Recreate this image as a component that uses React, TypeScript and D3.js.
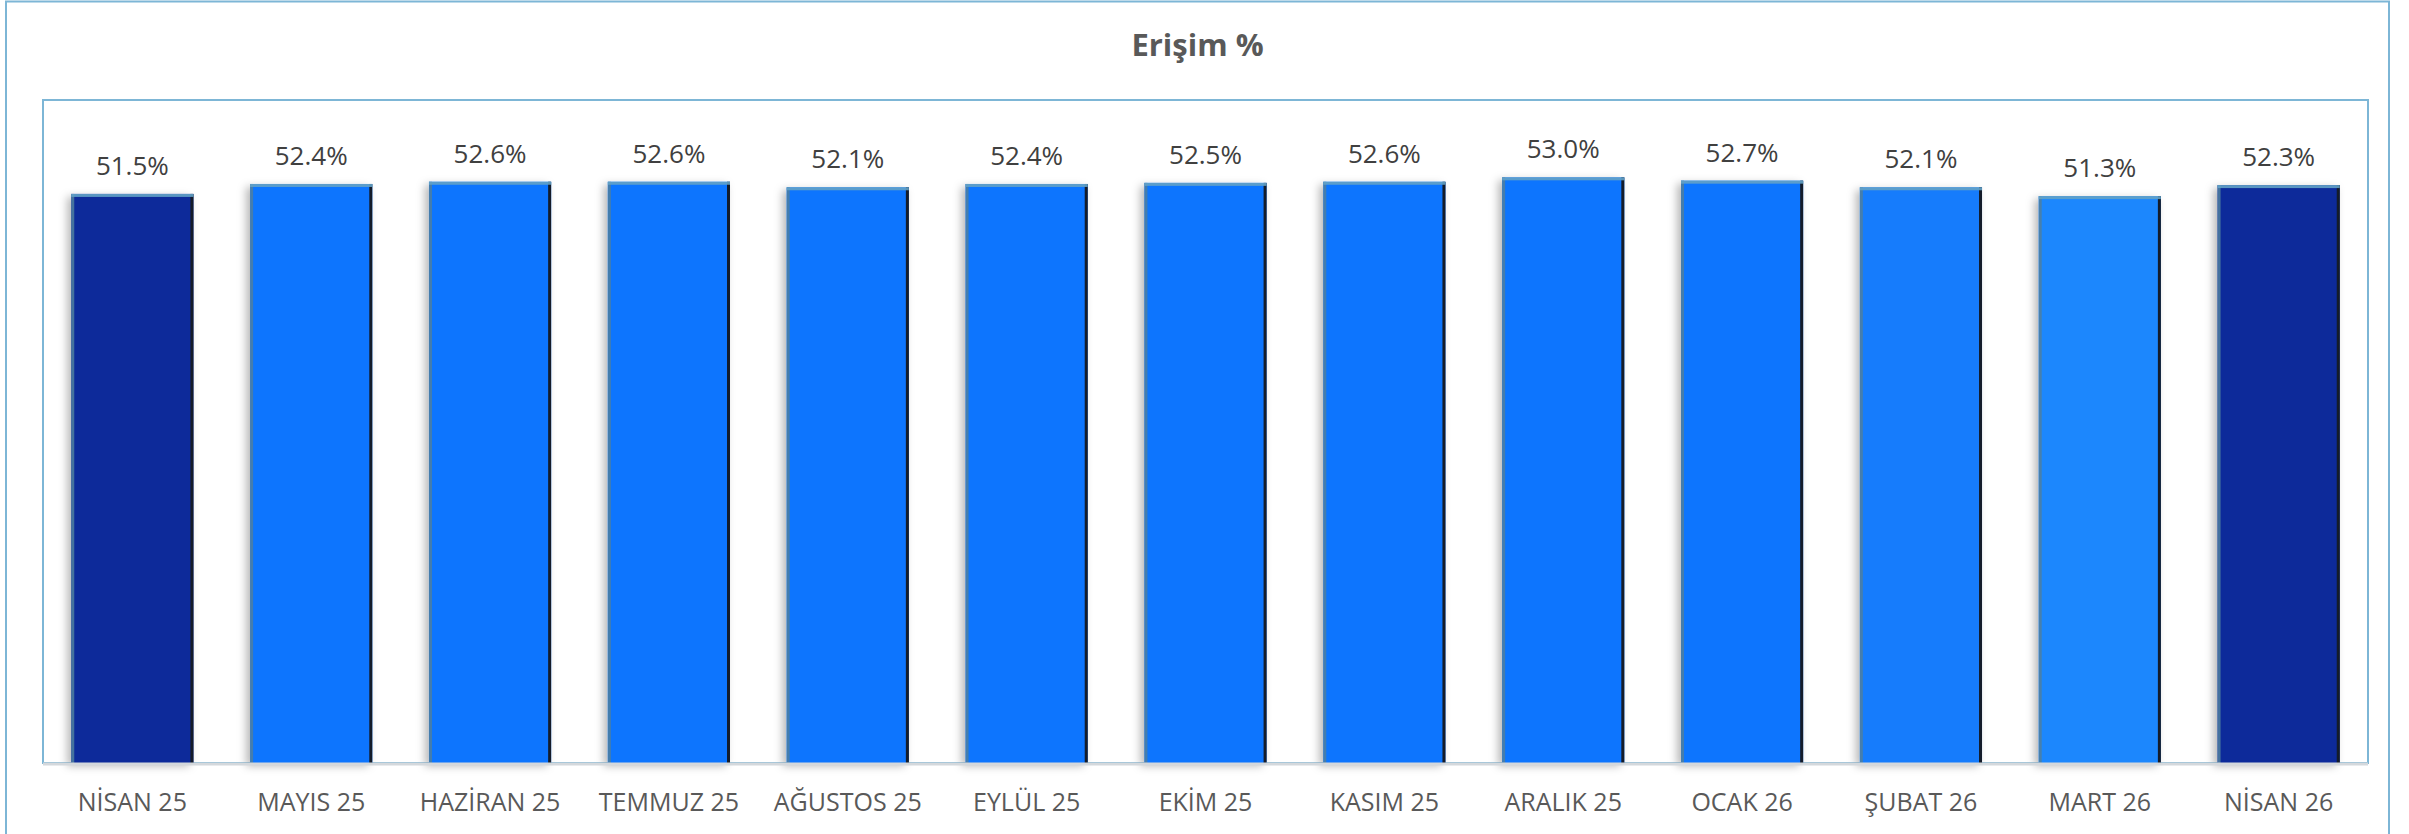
import React from "react";
import * as d3 from "d3";

const categories = [
  "NİSAN 25", "MAYIS 25", "HAZİRAN 25", "TEMMUZ 25", "AĞUSTOS 25", "EYLÜL 25",
  "EKİM 25", "KASIM 25", "ARALIK 25", "OCAK 26", "ŞUBAT 26", "MART 26", "NİSAN 26",
];
const values = [51.5, 52.4, 52.6, 52.6, 52.1, 52.4, 52.5, 52.6, 53.0, 52.7, 52.1, 51.3, 52.3];
const yDomain = [0, 60];
const title = "Erişim %";

const barColors = [
  "#10299a", "#1174fe", "#1174fe", "#1174fe", "#1174fe", "#1174fe",
  "#1174fe", "#1174fe", "#1174fe", "#1174fe", "#177bfc", "#1d87fd", "#10299a",
];

const W = 2409;
const H = 834;
const plot = { left: 43, right: 2368, top: 100, bottom: 763 };
const FONT = "'Open Sans', 'Noto Sans', sans-serif";

export default function App() {
  const x = d3
    .scaleBand<string>()
    .domain(categories)
    .range([plot.left, plot.right])
    .paddingInner(0.317)
    .paddingOuter(0.158);
  const y = d3.scaleLinear().domain(yDomain).range([plot.bottom, plot.top]);
  const bw = x.bandwidth();

  return (
    <svg
      width={W}
      height={H}
      style={{ position: "absolute", left: 0, top: 0, background: "#fff" }}
    >
      <defs>
        <filter id="sh" x="-20%" y="-5%" width="140%" height="110%">
          <feDropShadow dx={-4} dy={3} stdDeviation={4} floodColor="#000" floodOpacity={0.28} />
        </filter>
      </defs>
      <rect x={0} y={0} width={W} height={H} fill="#fff" />
      {/* outer frame */}
      <rect x={6} y={1.5} width={2383} height={H + 20} fill="none" stroke="#7db6d6" strokeWidth={2} />
      {/* title */}
      <text
        x={1197.5}
        y={56}
        textAnchor="middle"
        fontFamily={FONT}
        fontWeight={700}
        fontSize={31}
        fill="#595959"
      >
        {title}
      </text>
      {/* plot frame */}
      <rect
        x={plot.left}
        y={plot.top}
        width={plot.right - plot.left}
        height={plot.bottom - plot.top}
        fill="#fff"
        stroke="#7db6d6"
        strokeWidth={2}
      />
      {/* bars */}
      {categories.map((c, i) => {
        const bx = x(c)!;
        const by = y(values[i]);
        const bh = plot.bottom - by;
        return (
          <g key={c}>
            <rect x={bx} y={by} width={bw} height={bh} fill={barColors[i]} filter="url(#sh)" />
            {/* left bevel */}
            <rect x={bx} y={by} width={3} height={bh} fill="#4f7f9f" opacity={0.85} />
            {/* right dark edge */}
            <rect x={bx + bw - 3} y={by} width={3} height={bh} fill="#141c2a" />
            {/* top light edge */}
            <rect x={bx} y={by} width={bw} height={3} fill="#63a2c6" opacity={0.9} />
            <text
              x={bx + bw / 2}
              y={by - 19}
              textAnchor="middle"
              fontFamily={FONT}
              fontSize={26}
              fill="#404040"
            >
              {values[i].toFixed(1) + "%"}
            </text>
          </g>
        );
      })}
      {/* axis line */}
      <line
        x1={plot.left}
        x2={plot.right}
        y1={plot.bottom + 1}
        y2={plot.bottom + 1}
        stroke="#d4d8dc"
        strokeWidth={3}
      />
      {/* category labels */}
      {categories.map((c) => (
        <text
          key={"l" + c}
          x={x(c)! + bw / 2}
          y={811}
          textAnchor="middle"
          fontFamily={FONT}
          fontSize={25}
          fill="#595959"
        >
          {c}
        </text>
      ))}
    </svg>
  );
}
